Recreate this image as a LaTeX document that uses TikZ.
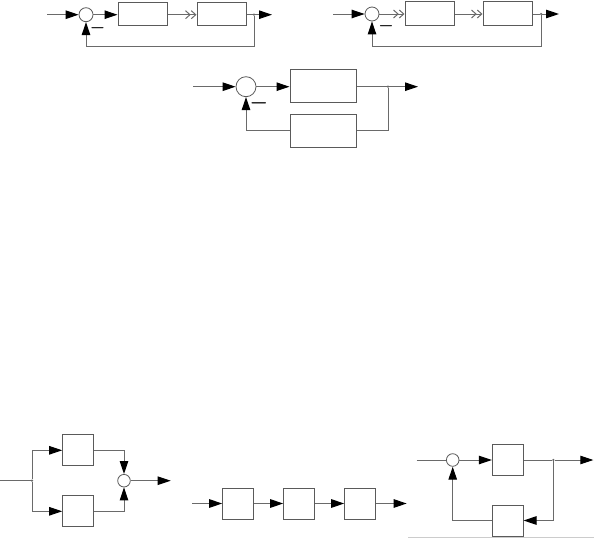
\documentclass[tikz,border=0pt]{standalone}
\usetikzlibrary{arrows.meta}
\definecolor{ln}{HTML}{6A6A6A}
\definecolor{bx}{HTML}{5A5A5A}
\begin{document}
\begin{tikzpicture}[x=1pt,y=-1pt,
  line/.style={draw=ln,line width=1pt},
  arr/.style={line,-{Triangle[length=13pt,width=8.5pt,color=black]}},
  oarr/.style={line,-{Straight Barb[open,length=4.5pt,width=8pt]Straight Barb[open,length=4.5pt,width=8pt]}},
  blk/.style={draw=bx,line width=1pt,rectangle,inner sep=0pt},
  sum/.style={draw=bx,line width=0.8pt,circle,inner sep=0pt,fill=white},
  dot/.style={circle,fill=ln,inner sep=0pt,minimum size=2.5pt},
  minus/.style={inner sep=0pt,font=\fontsize{17}{17}\selectfont\boldmath}]
\useasboundingbox (0,0) rectangle (594,538);
% ---- top left
\coordinate (inA) at (47,14.7);
\node[sum,minimum size=14pt] (sumA) at (86,14.7) {};
\node[blk,minimum width=49pt,minimum height=23.3pt] (bA1) at (142.5,14.3) {};
\node[blk,minimum width=49pt,minimum height=23.3pt] (bA2) at (221.5,14.3) {};
\node[dot] (brA) at (254,14.7) {};
\coordinate (outA) at (272,14.7);
\node[minus] (mA) at (97.5,28.5) {$-$};
\draw[arr] (inA) -- (sumA.west);
\draw[arr] (sumA.east) -- (bA1.west |- sumA.east);
\draw[oarr] (bA1.east |- sumA.east) -- (bA2.west |- sumA.east);
\draw[line] (bA2.east |- brA) -- (brA);
\draw[arr] (brA) -- (outA);
\draw[arr] (brA) -- ++(0,32) -| (sumA.south);
% ---- top right
\coordinate (inB) at (333,14);
\node[sum,minimum size=14pt] (sumB) at (372,14) {};
\node[blk,minimum width=49pt,minimum height=23.7pt] (bB1) at (429.5,13.2) {};
\node[blk,minimum width=49pt,minimum height=23.7pt] (bB2) at (507.5,13.2) {};
\node[dot] (brB) at (541,14) {};
\coordinate (outB) at (559,14);
\node[minus] (mB) at (386,26) {$-$};
\draw[arr] (inB) -- (sumB.west);
\draw[oarr] (sumB.east) -- (bB1.west |- sumB.east);
\draw[oarr] (bB1.east |- sumB.east) -- (bB2.west |- sumB.east);
\draw[line] (bB2.east |- brB) -- (brB);
\draw[arr] (brB) -- (outB);
\draw[arr] (brB) -- ++(0,32) -| (sumB.south);
% ---- middle
\coordinate (inC) at (193,86.7);
\node[sum,minimum size=20pt] (sumC) at (246,86.7) {};
\node[blk,minimum width=66pt,minimum height=32.7pt] (bC1) at (323,86.3) {};
\node[blk,minimum width=66pt,minimum height=33pt] (bC2) at (323,130.5) {};
\node[dot] (brC) at (388,86.7) {};
\coordinate (outC) at (418,86.7);
\node[minus] (mC) at (259,103) {\fontsize{20}{20}\selectfont$-$};
\draw[arr] (inC) -- (sumC.west);
\draw[arr] (sumC.east) -- (bC1.west |- sumC.east);
\draw[line] (bC1.east |- brC) -- (brC);
\draw[arr] (brC) -- (outC);
\draw[line] (brC) |- (bC2.east);
\draw[arr] (bC2.west) -| (sumC.south);
% ---- bottom left
\coordinate (inD) at (0,480.7);
\node[dot] (brD) at (32,480.7) {};
\node[blk,minimum width=30.6pt,minimum height=30.7pt] (bD1) at (78,450.3) {};
\node[blk,minimum width=30.6pt,minimum height=30.7pt] (bD2) at (78,511.3) {};
\node[sum,minimum size=12.6pt] (sumD) at (124,480.7) {};
\coordinate (outD) at (170.7,480.7);
\draw[line] (inD) -- (brD);
\draw[arr] (brD) |- (bD1.west);
\draw[arr] (brD) |- (bD2.west);
\draw[arr] (bD1.east) -| (sumD.north);
\draw[arr] (bD2.east) -| (sumD.south);
\draw[arr] (sumD.east) -- (outD);
% ---- bottom middle
\coordinate (inE) at (192,503.5);
\node[blk,minimum width=31pt,minimum height=31pt] (bE1) at (238.2,503.5) {};
\node[blk,minimum width=31pt,minimum height=31pt] (bE2) at (299.2,503.5) {};
\node[blk,minimum width=31pt,minimum height=31pt] (bE3) at (360.2,503.5) {};
\coordinate (outE) at (406.7,503.5);
\draw[arr] (inE) -- (bE1.west);
\draw[arr] (bE1.east) -- (bE2.west);
\draw[arr] (bE2.east) -- (bE3.west);
\draw[arr] (bE3.east) -- (outE);
% ---- bottom right
\coordinate (inF) at (416.7,460);
\node[sum,minimum size=12.6pt] (sumF) at (452.7,460) {};
\node[blk,minimum width=30.7pt,minimum height=30.7pt] (bF1) at (507.7,459.7) {};
\node[blk,minimum width=30.7pt,minimum height=31pt] (bF2) at (507.7,520.5) {};
\node[dot] (brF) at (553.3,460) {};
\coordinate (outF) at (593.3,460);
\draw[line] (inF) -- (sumF.west);
\draw[arr] (sumF.east) -- (bF1.west |- sumF.east);
\draw[line] (bF1.east |- brF) -- (brF);
\draw[arr] (brF) -- (outF);
\draw[arr] (brF) |- (bF2.east);
\draw[arr] (bF2.west) -| (sumF.south);
\coordinate (gl1) at (408,537.3);
\coordinate (gl2) at (594,537.3);
\draw[draw=black!20,line width=0.8pt] (gl1) -- (gl2);
\end{tikzpicture}
\end{document}
